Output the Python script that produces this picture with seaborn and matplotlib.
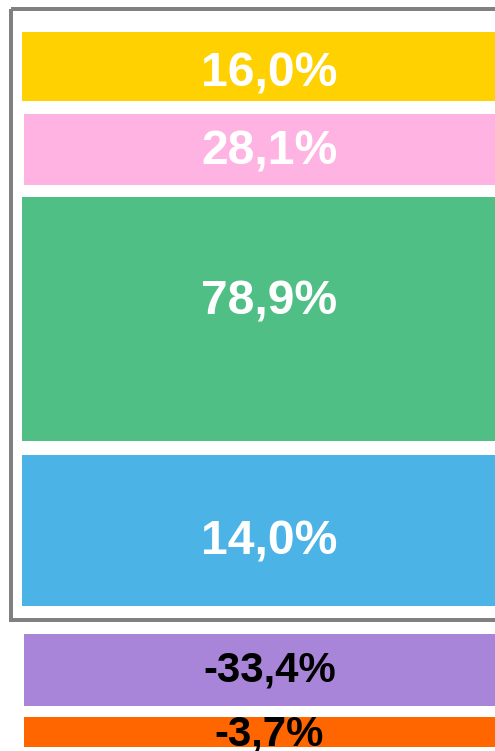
import matplotlib
matplotlib.use("Agg")
import matplotlib.pyplot as plt
import matplotlib.transforms as mtransforms
from matplotlib.patches import Rectangle
import seaborn as sns
import pandas as pd

# ---- data (top-to-bottom segments) ----
segments = ["Segment 1", "Segment 2", "Segment 3", "Segment 4", "Segment 5", "Segment 6"]
labels = ["16,0%", "28,1%", "78,9%", "14,0%", "-33,4%", "-3,7%"]
heights = [69, 71, 244, 151, 72, 30]          # visual segment heights
colors = ["#FFD100", "#FFB3E2", "#50BF86", "#4BB3E5", "#A985D9", "#FF6600"]
text_colors = ["white", "white", "white", "white", "black", "black"]

# ---- layout ----
W, H = 495, 751
first_top = 32
gaps = [13, 12, 14, 28, 11]
label_baseline_offsets = [55, 51, 118, 100, 47, 28]  # from segment top to text baseline
font_px = [48, 48, 48, 48, 42, 42]
inset = [0, 2, 0, 0, 2, 2]  # px narrower on the left

sns.set_theme(style="white")
plt.rcParams["font.family"] = ["Liberation Sans", "DejaVu Sans"]

fig = plt.figure(figsize=(W / 100, H / 100), dpi=100)
ax = fig.add_axes([0, 0, 1, 1])

px_per_unit = W / 0.8
tops = []
t = first_top
for i, h in enumerate(heights):
    tops.append(t)
    if i < len(gaps):
        t = t + h + gaps[i]

df = pd.DataFrame({"segment": segments, "label": labels, "height": heights,
                   "top": tops, "color": colors})

for i, row in df.iterrows():
    w = 0.8 - 2 * inset[i] / px_per_unit
    sns.barplot(x=[0], y=[row["height"]], bottom=row["top"], color=row["color"],
                saturation=1, width=w, linewidth=0, ax=ax)
    ax.text(0, row["top"] + label_baseline_offsets[i], row["label"],
            ha="center", va="baseline", color=text_colors[i],
            fontsize=font_px[i] * 0.72, fontweight="bold", clip_on=False)

left = -0.4 - 22 / px_per_unit
ax.set_xlim(left, left + W / px_per_unit)
ax.set_ylim(H, 0)
ax.axis("off")

# grey frame around the positive segments
trans = mtransforms.blended_transform_factory(ax.transAxes, ax.transData)
ax.add_patch(Rectangle((11 / W, 9), 2.0, 611, transform=trans, fill=False,
                       edgecolor="#808080", linewidth=4 * 0.72, clip_on=True))

fig.savefig("out.png", dpi=100, facecolor="white")
